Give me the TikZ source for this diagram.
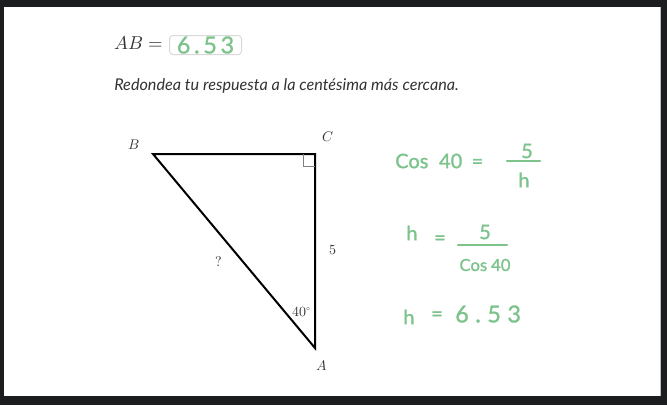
\documentclass[tikz,border=0pt]{standalone}
\usepackage{fontspec}
\usepackage{unicode-math}
\setmathfont{Latin Modern Math}
\newfontfamily\lato{Lato}
\newfontfamily\hand{Lato}[FakeBold=1.2]
\definecolor{frame}{HTML}{1C1D1F}
\definecolor{hgreen}{HTML}{7DC38C}
\definecolor{boxgray}{HTML}{D9D9D9}
\definecolor{textgray}{HTML}{333333}
\tikzset{
  lbl/.style={inner sep=0pt, font=\fontsize{10.5}{12}\selectfont, text=textgray},
  hw/.style={inner sep=0pt, text=hgreen, font=\hand\fontsize{15}{17}\selectfont},
  hwline/.style={hgreen, line width=1.8pt, line cap=round},
  tri/.style={line width=1.5pt, line join=miter}
}
\begin{document}
\begin{tikzpicture}[x=0.75pt,y=-0.75pt]
\fill[frame] (0,0) rectangle (667,405);
\fill[white] (4,7) rectangle (660,396);
\draw[gray!50, line width=0.75pt] (660.5,7) -- (660.5,396);
\useasboundingbox (0,0) rectangle (667,405);

% header
\node[anchor=base west, inner sep=0pt, font=\fontsize{14}{16}\selectfont, text=textgray] (ab) at (114,49.5) {$AB =$};
\node[draw=boxgray, line width=0.75pt, rounded corners=2.5pt, minimum width=54pt, minimum height=14.25pt, inner sep=0pt,
      text=hgreen, font=\hand\fontsize{17.5}{19}\selectfont\addfontfeature{LetterSpace=16}] (ans) at (205.5,45) {6.53};
\node[anchor=base west, inner sep=0pt, font=\lato\itshape\fontsize{12.15}{14}\selectfont, text=textgray] (instr) at (114,90) {Redondea tu respuesta a la centésima más cercana.};

% triangle
\coordinate (B) at (153,154);
\coordinate (C) at (315,154);
\coordinate (A) at (315,348);
\draw[tri] (B) -- (C) -- (A) -- cycle;
\draw[gray, line width=0.6pt] (303,154) -- (303,166) -- (315,166);
\node[lbl] (lB) at (134,145) {$B$};
\node[lbl] (lC) at (328,137) {$C$};
\node[lbl] (lA) at (322,365) {$A$};
\node[lbl] (l5) at (333,250) {$5$};
\node[lbl] (lq) at (219,262) {$?$};
\node[lbl] (l40) at (302,312) {$40^\circ$};

% handwriting
\node[hw, anchor=west] (cos1) at (395,161) {Cos\hspace{8pt}40\hspace{7pt}=};
\coordinate (f1a) at (507,161);
\coordinate (f1b) at (540,161);
\draw[hwline] (f1a) -- (f1b);
\node[hw] (n1) at (527,151) {5};
\node[hw] (d1) at (524,180) {h};

\node[hw] (h2) at (412,233) {h};
\node[hw] (e2) at (440,240) {=};
\coordinate (f2a) at (458,245);
\coordinate (f2b) at (507,245);
\draw[hwline] (f2a) -- (f2b);
\node[hw] (n2) at (485,232) {5};
\node[hw, font=\hand\fontsize{12.5}{14}\selectfont] (d2) at (485,265) {Cos\hspace{3pt}40};

\node[hw] (h3) at (409,317) {h};
\node[hw] (e3) at (437,316) {=};
\node[hw, anchor=west, font=\hand\fontsize{17.5}{19}\selectfont\addfontfeature{LetterSpace=28}] (v3) at (455,314) {6.53};
\end{tikzpicture}
\end{document}
